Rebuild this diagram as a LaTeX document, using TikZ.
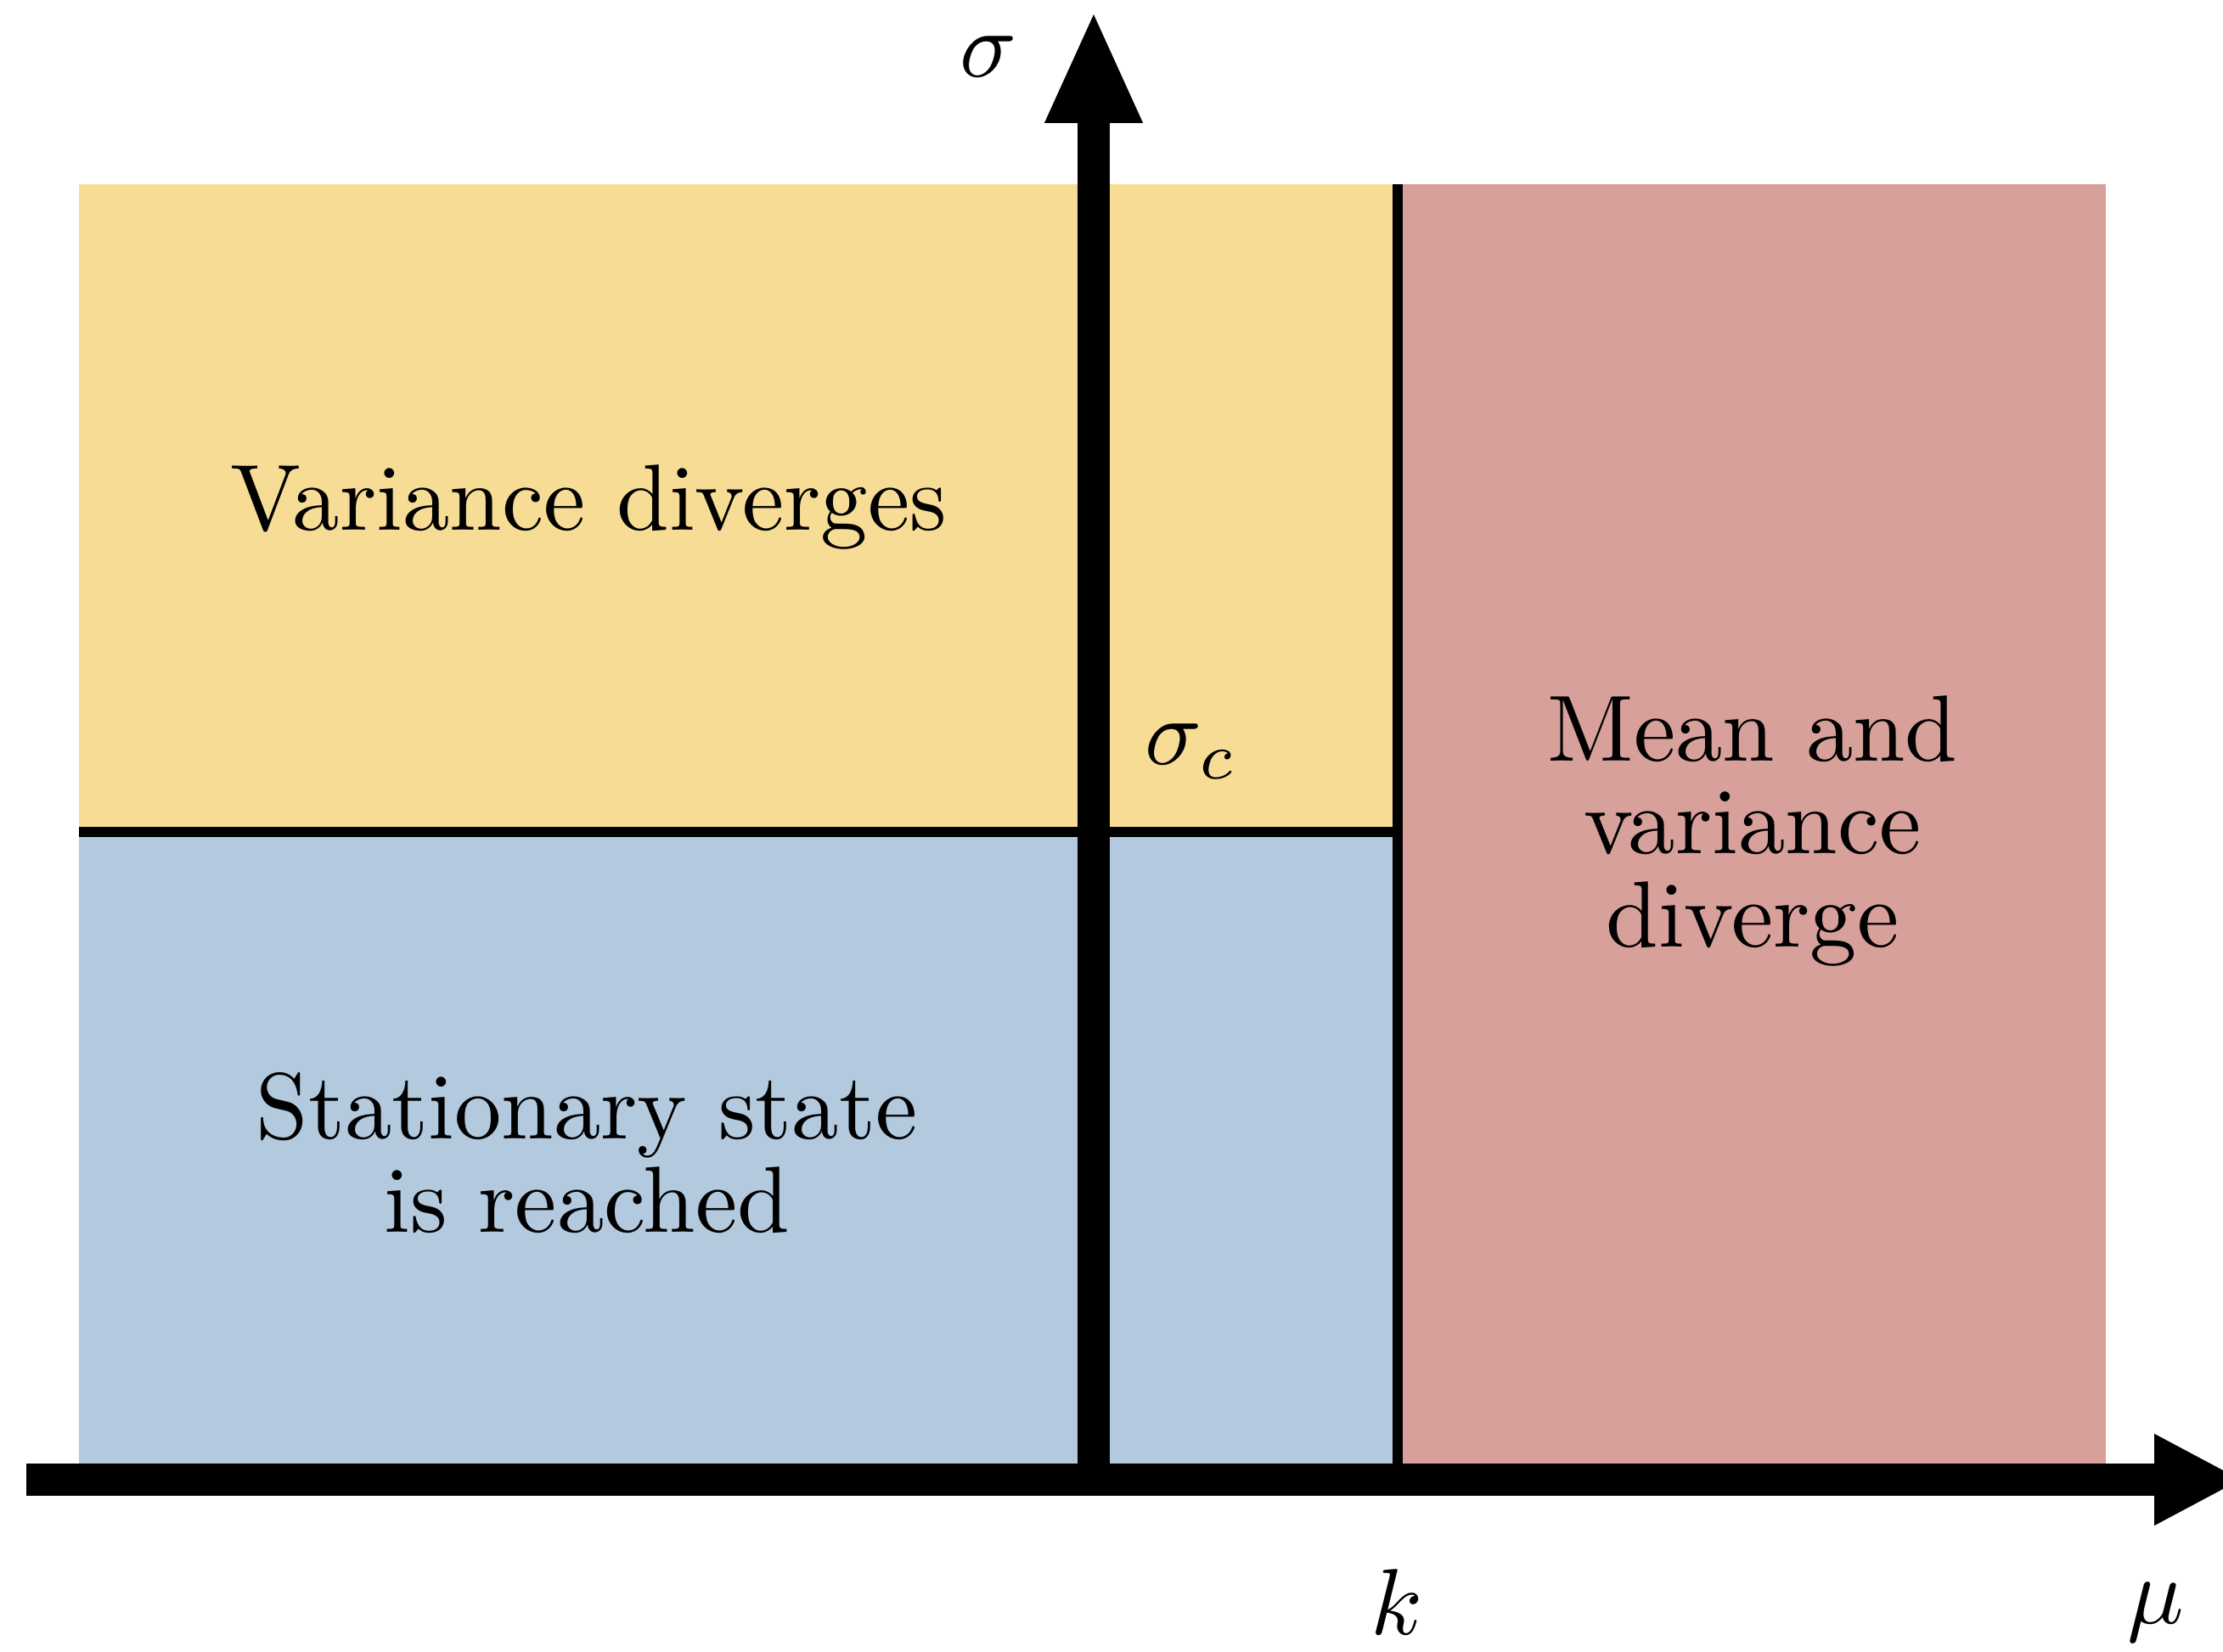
\documentclass[tikz,border=0pt]{standalone}
\usetikzlibrary{arrows.meta}
\definecolor{regyellow}{HTML}{F7DC96}
\definecolor{regblue}{HTML}{B3C9DD}
\definecolor{regpink}{HTML}{D8A09A}
\begin{document}
\begin{tikzpicture}[every node/.style={scale=3.15},
  region text/.style={align=center,font=\fontsize{10}{9.9}\selectfont},
  phase line/.style={line width=0.12cm},
  axis/.style={line width=0.38cm}]
\useasboundingbox (0,0) rectangle (26.18,19.46);
\fill[regyellow] (0.93,9.66) rectangle (16.46,17.29);
\fill[regblue] (0.93,2.22) rectangle (16.46,9.66);
\fill[regpink] (16.46,2.22) rectangle (24.80,17.29);
\coordinate (ktop) at (16.46,17.29);
\coordinate (kbot) at (16.46,2.03);
\coordinate (sleft) at (0.93,9.66);
\coordinate (sright) at (16.46,9.66);
\draw[phase line] (ktop) -- (kbot);
\draw[phase line] (sleft) -- (sright);
\coordinate (origin) at (12.88,2.03);
\coordinate (xstart) at (0.31,2.03);
\coordinate (xend) at (26.41,2.03);
\coordinate (yend) at (12.88,19.34);
\draw[axis,-{Triangle[length=1.04cm,width=1.0cm]}] (xstart) -- (xend);
\draw[axis,-{Triangle[length=1.33cm,width=1.05cm]}] (origin) -- (yend);
\node (sigma) at (11.64,18.79) {$\sigma$};
\node (sigmac) at (14.03,10.61) {$\sigma_c$};
\node (k) at (16.45,0.59) {$k$};
\node (mu) at (25.39,0.47) {$\mu$};
\node[region text] (var) at (6.93,13.48) {Variance diverges};
\node[region text] (stat) at (6.91,5.88) {Stationary state\\is reached};
\node[region text] (mean) at (20.64,9.67) {Mean and\\variance\\diverge};
\end{tikzpicture}
\end{document}
